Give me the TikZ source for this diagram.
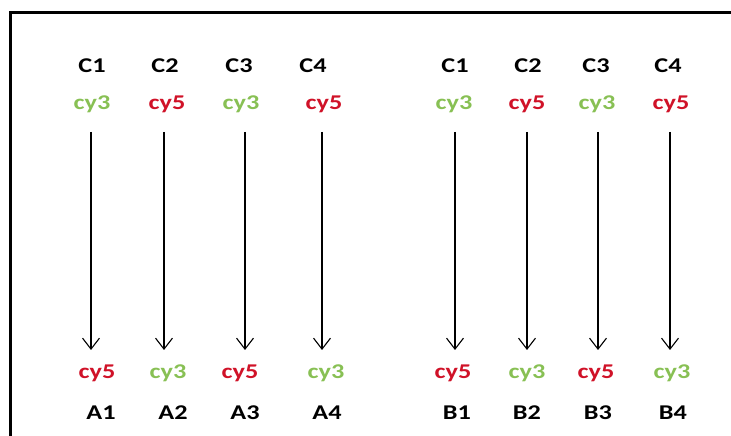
\documentclass[tikz,border=0pt]{standalone}
\usepackage{fontspec}
\setmainfont{Carlito}[FakeStretch=1.25]
\usetikzlibrary{arrows.meta}
\definecolor{cygreen}{RGB}{136,192,84}
\definecolor{cyred}{RGB}{208,18,40}
\tikzset{
  x=1pt, y=1pt,
  lbl/.style={font=\fontsize{21}{23}\selectfont\bfseries, inner sep=0pt, anchor=center},
  green/.style={lbl, text=cygreen},
  red/.style={lbl, text=cyred},
  dark/.style={lbl, text=black},
  flow/.style={line width=1.3pt, -{Straight Barb[length=11pt,width=17pt,line width=1.1pt]}},
  frame/.style={line width=2.2pt}
}
\begin{document}
\begin{tikzpicture}
\useasboundingbox (0,0) rectangle (731,436);
% open frame: left and top edges
\coordinate (fbl) at (10.5,0);
\coordinate (ftl) at (10.5,423.5);
\coordinate (ftr) at (731,423.5);
\draw[frame] (fbl) -- (ftl) -- (ftr);

% channel headers
\node[dark] (c1) at (92,370) {C1};
\node[dark] (c2) at (165,370) {C2};
\node[dark] (c3) at (239,370) {C3};
\node[dark] (c4) at (313,370) {C4};
\node[dark] (c5) at (455,370) {C1};
\node[dark] (c6) at (528,370) {C2};
\node[dark] (c7) at (596,370) {C3};
\node[dark] (c8) at (668,370) {C4};

% dyes on top
\node[green] (u1) at (92,332) {cy3};
\node[red]   (u2) at (167,332) {cy5};
\node[green] (u3) at (241,332) {cy3};
\node[red]   (u4) at (324,332) {cy5};
\node[green] (u5) at (454,332) {cy3};
\node[red]   (u6) at (527,332) {cy5};
\node[green] (u7) at (597,332) {cy3};
\node[red]   (u8) at (671,332) {cy5};

% dyes at the bottom
\node[red]   (d1) at (97,63) {cy5};
\node[green] (d2) at (168,63) {cy3};
\node[red]   (d3) at (240,63) {cy5};
\node[green] (d4) at (326,63) {cy3};
\node[red]   (d5) at (453,63) {cy5};
\node[green] (d6) at (527,63) {cy3};
\node[red]   (d7) at (596,63) {cy5};
\node[green] (d8) at (672,63) {cy3};

% array labels
\node[dark] (a1) at (101,23) {A1};
\node[dark] (a2) at (173,23) {A2};
\node[dark] (a3) at (245,23) {A3};
\node[dark] (a4) at (327,23) {A4};
\node[dark] (b1) at (457,23) {B1};
\node[dark] (b2) at (527,23) {B2};
\node[dark] (b3) at (598,23) {B3};
\node[dark] (b4) at (673,23) {B4};

% arrow ends
\foreach \i/\x in {1/91,2/164,3/245,4/322,5/455,6/527,7/598,8/670}{
  \coordinate (s\i) at (\x,304);
  \coordinate (t\i) at (\x,86);
}
\foreach \i in {1,...,8}{
  \draw[flow] (s\i) -- (t\i);
}
\end{tikzpicture}
\end{document}
